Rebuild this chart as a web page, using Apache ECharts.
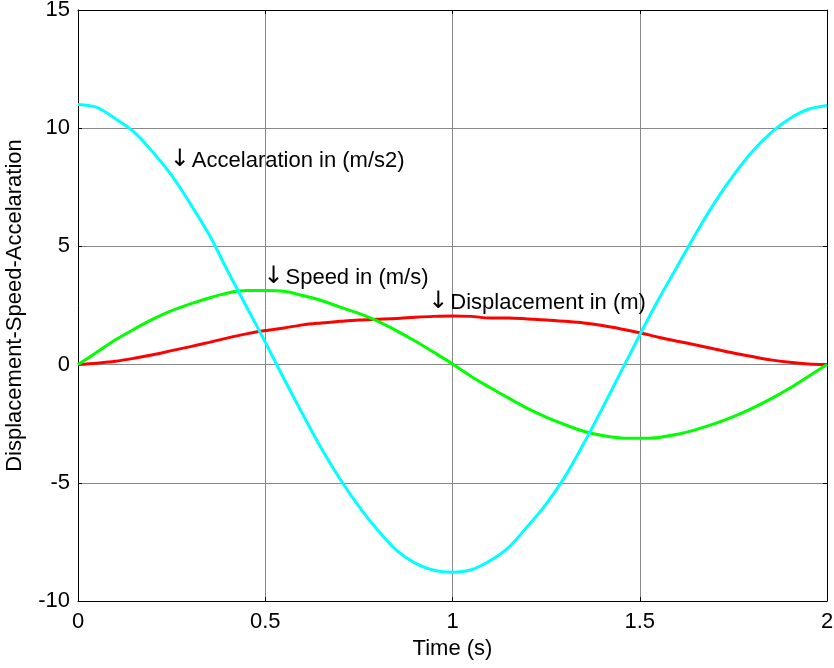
<!DOCTYPE html>
<html>
<head>
<meta charset="utf-8">
<title>Displacement-Speed-Accelaration</title>
<script src="https://cdn.jsdelivr.net/npm/echarts@6/dist/echarts.min.js"></script>
<style>
  html, body { margin: 0; padding: 0; background: #fff; }
  #chart { width: 834px; height: 668px; }
</style>
</head>
<body>
<div id="chart"></div>
<script>
const time = [0, 0.05, 0.1, 0.15, 0.2, 0.25, 0.3, 0.35, 0.4, 0.45, 0.5,
  0.55, 0.6, 0.65, 0.7, 0.75, 0.8, 0.85, 0.9, 0.95, 1,
  1.05, 1.1, 1.15, 1.2, 1.25, 1.3, 1.35, 1.4, 1.45, 1.5,
  1.55, 1.6, 1.65, 1.7, 1.75, 1.8, 1.85, 1.9, 1.95, 2]
const displacement = [0, 0.06, 0.14, 0.27, 0.42, 0.59, 0.76, 0.94, 1.13, 1.3, 1.44,
  1.55, 1.68, 1.76, 1.83, 1.89, 1.92, 1.95, 2.0, 2.04, 2.06,
  2.04, 1.97, 1.97, 1.93, 1.89, 1.83, 1.76, 1.65, 1.51, 1.35,
  1.16, 0.99, 0.83, 0.66, 0.49, 0.34, 0.2, 0.1, 0.03, 0]
const speed = [0, 0.52, 1.05, 1.5, 1.92, 2.28, 2.57, 2.82, 3.03, 3.13, 3.13,
  3.1, 2.92, 2.71, 2.43, 2.17, 1.84, 1.44, 1.0, 0.52, 0.03,
  -0.5, -0.97, -1.42, -1.85, -2.22, -2.54, -2.82, -3.0, -3.1, -3.12,
  -3.08, -2.95, -2.75, -2.5, -2.2, -1.85, -1.45, -1.0, -0.5, 0]
const accelaration = [11.0, 10.88, 10.4, 9.83, 8.98, 8.0, 6.8, 5.5, 3.95, 2.45, 0.95,
  -0.6, -2.1, -3.55, -4.85, -6.0, -7.0, -7.85, -8.4, -8.7, -8.78,
  -8.68, -8.3, -7.73, -6.85, -5.9, -4.75, -3.35, -1.85, -0.3, 1.25,
  2.75, 4.15, 5.55, 6.85, 8.0, 9.0, 9.8, 10.4, 10.8, 10.96]

// text labels placed on the plot
const noteX = [0.245, 0.495, 0.935]
const noteY = [8.63, 3.68, 2.62]
const noteText = ['Accelaration in (m/s2)', 'Speed in (m/s)', 'Displacement in (m)']

const xTicks = [0, 0.5, 1, 1.5, 2]
const yTicks = [-10, -5, 0, 5, 10, 15]

const font = 'Liberation Sans, Arial, sans-serif'

function pairs(ys) {
  return time.map((t, i) => [t, ys[i]])
}

const chart = echarts.init(document.getElementById('chart'), null, { renderer: 'canvas' })

// top and right axes only close the box and carry inside ticks
const boxAxis = {
  axisLine: { show: true, onZero: false, lineStyle: { color: '#000', width: 1 } },
  axisTick: { show: true, inside: true, length: 4, lineStyle: { color: '#000' } },
  axisLabel: { show: false },
  splitLine: { show: false }
}

chart.setOption({
  animation: false,
  backgroundColor: '#fff',
  grid: {
    left: 78,
    right: 7,
    top: 10,
    bottom: 67,
    outerBoundsMode: 'none',
    show: false
  },
  xAxis: [
    {
      type: 'value',
      min: xTicks[0],
      max: xTicks[xTicks.length - 1],
      interval: 0.5,
      name: 'Time (s)',
      nameLocation: 'middle',
      nameGap: 37,
      nameTextStyle: { color: '#000', fontSize: 22, fontFamily: font },
      axisLine: { show: true, onZero: false, lineStyle: { color: '#000', width: 1 } },
      axisTick: { show: true, inside: true, length: 4, lineStyle: { color: '#000' } },
      axisLabel: { color: '#000', fontSize: 22, fontFamily: font, margin: 10 },
      splitLine: { show: true, lineStyle: { color: '#888', width: 1 } }
    },
    Object.assign({ type: 'value', position: 'top', min: 0, max: 2, interval: 0.5 }, boxAxis)
  ],
  yAxis: [
    {
      type: 'value',
      min: yTicks[0],
      max: yTicks[yTicks.length - 1],
      interval: 5,
      name: 'Displacement-Speed-Accelaration',
      nameLocation: 'middle',
      nameGap: 52,
      nameTextStyle: { color: '#000', fontSize: 22, fontFamily: font },
      axisLine: { show: true, onZero: false, lineStyle: { color: '#000', width: 1 } },
      axisTick: { show: true, inside: true, length: 4, lineStyle: { color: '#000' } },
      axisLabel: { color: '#000', fontSize: 22, fontFamily: font, margin: 8 },
      splitLine: { show: true, lineStyle: { color: '#888', width: 1 } }
    },
    Object.assign({ type: 'value', position: 'right', min: -10, max: 15, interval: 5 }, boxAxis)
  ],
  series: [
    {
      name: 'Displacement',
      type: 'line',
      data: pairs(displacement),
      showSymbol: false,
      smooth: 0.3,
      lineStyle: { color: '#ff0000', width: 3 },
      z: 3
    },
    {
      name: 'Speed',
      type: 'line',
      data: pairs(speed),
      showSymbol: false,
      smooth: 0.3,
      lineStyle: { color: '#00ff00', width: 3 },
      z: 3
    },
    {
      name: 'Accelaration',
      type: 'line',
      data: pairs(accelaration),
      showSymbol: false,
      smooth: 0.3,
      lineStyle: { color: '#00ffff', width: 3 },
      z: 4
    },
    {
      // annotations, drawn as labels on invisible points
      name: 'notes',
      type: 'scatter',
      symbolSize: 0,
      silent: true,
      z: 5,
      itemStyle: { opacity: 1 },
      data: noteX.map((x, i) => ({ value: [x, noteY[i]], name: noteText[i] })),
      label: {
        show: true,
        position: 'right',
        distance: 0,
        opacity: 1,
        formatter: p => '{arrow|↓}' + p.name,
        color: '#000',
        fontSize: 22,
        fontFamily: font,
        rich: {
          arrow: { fontFamily: 'DejaVu Sans', fontSize: 24, color: '#000', padding: [0, 2, 2, 0] }
        }
      }
    }
  ]
})
</script>
</body>
</html>
